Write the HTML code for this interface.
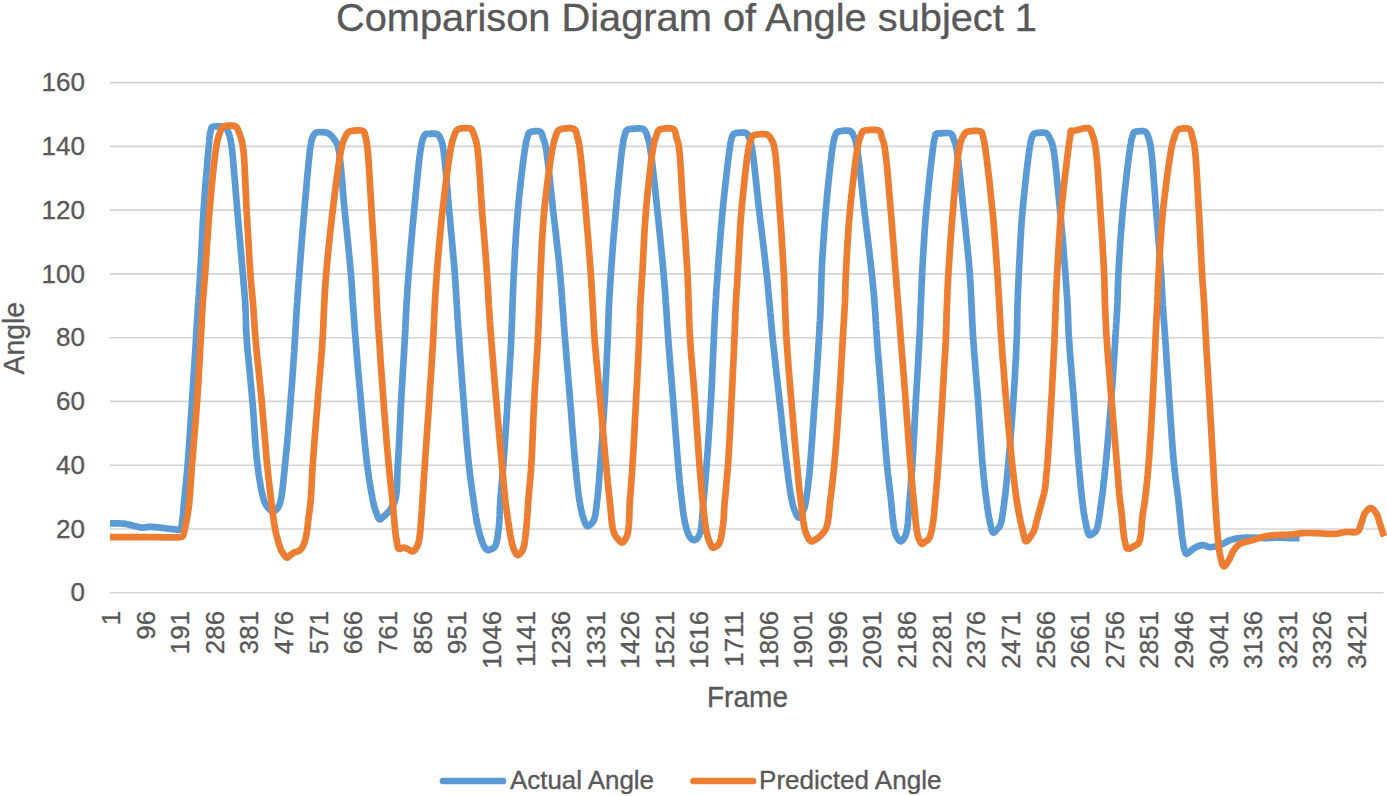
<!DOCTYPE html>
<html><head><meta charset="utf-8"><style>
html,body{margin:0;padding:0;background:#fff;}
body{width:1387px;height:796px;overflow:hidden;font-family:"Liberation Sans",sans-serif;}
svg{display:block;}
</style></head><body>
<svg width="1387" height="796" viewBox="0 0 1387 796" font-family="Liberation Sans, sans-serif">
<style>text{stroke:#595959;stroke-width:0.35px;}</style>
<rect width="1387" height="796" fill="#fff"/>
<g stroke="#d4d4d4" stroke-width="1.6"><line x1="110" x2="1383.5" y1="592.8" y2="592.8"/><line x1="110" x2="1383.5" y1="529.0" y2="529.0"/><line x1="110" x2="1383.5" y1="465.2" y2="465.2"/><line x1="110" x2="1383.5" y1="401.4" y2="401.4"/><line x1="110" x2="1383.5" y1="337.7" y2="337.7"/><line x1="110" x2="1383.5" y1="273.9" y2="273.9"/><line x1="110" x2="1383.5" y1="210.1" y2="210.1"/><line x1="110" x2="1383.5" y1="146.4" y2="146.4"/><line x1="110" x2="1383.5" y1="82.6" y2="82.6"/></g>
<g fill="#595959" font-size="26"><text x="85" y="601.4" text-anchor="end">0</text><text x="85" y="537.6" text-anchor="end">20</text><text x="85" y="473.8" text-anchor="end">40</text><text x="85" y="410.0" text-anchor="end">60</text><text x="85" y="346.3" text-anchor="end">80</text><text x="85" y="282.5" text-anchor="end">100</text><text x="85" y="218.7" text-anchor="end">120</text><text x="85" y="155.0" text-anchor="end">140</text><text x="85" y="91.2" text-anchor="end">160</text></g>
<g fill="#595959" font-size="26"><text transform="translate(120.0,610.8) rotate(-90)" text-anchor="end">1</text><text transform="translate(154.6,610.8) rotate(-90)" text-anchor="end">96</text><text transform="translate(189.2,610.8) rotate(-90)" text-anchor="end">191</text><text transform="translate(223.8,610.8) rotate(-90)" text-anchor="end">286</text><text transform="translate(258.4,610.8) rotate(-90)" text-anchor="end">381</text><text transform="translate(293.1,610.8) rotate(-90)" text-anchor="end">476</text><text transform="translate(327.7,610.8) rotate(-90)" text-anchor="end">571</text><text transform="translate(362.3,610.8) rotate(-90)" text-anchor="end">666</text><text transform="translate(396.9,610.8) rotate(-90)" text-anchor="end">761</text><text transform="translate(431.5,610.8) rotate(-90)" text-anchor="end">856</text><text transform="translate(466.1,610.8) rotate(-90)" text-anchor="end">951</text><text transform="translate(500.7,610.8) rotate(-90)" text-anchor="end">1046</text><text transform="translate(535.3,610.8) rotate(-90)" text-anchor="end">1141</text><text transform="translate(569.9,610.8) rotate(-90)" text-anchor="end">1236</text><text transform="translate(604.6,610.8) rotate(-90)" text-anchor="end">1331</text><text transform="translate(639.2,610.8) rotate(-90)" text-anchor="end">1426</text><text transform="translate(673.8,610.8) rotate(-90)" text-anchor="end">1521</text><text transform="translate(708.4,610.8) rotate(-90)" text-anchor="end">1616</text><text transform="translate(743.0,610.8) rotate(-90)" text-anchor="end">1711</text><text transform="translate(777.6,610.8) rotate(-90)" text-anchor="end">1806</text><text transform="translate(812.2,610.8) rotate(-90)" text-anchor="end">1901</text><text transform="translate(846.8,610.8) rotate(-90)" text-anchor="end">1996</text><text transform="translate(881.4,610.8) rotate(-90)" text-anchor="end">2091</text><text transform="translate(916.1,610.8) rotate(-90)" text-anchor="end">2186</text><text transform="translate(950.7,610.8) rotate(-90)" text-anchor="end">2281</text><text transform="translate(985.3,610.8) rotate(-90)" text-anchor="end">2376</text><text transform="translate(1019.9,610.8) rotate(-90)" text-anchor="end">2471</text><text transform="translate(1054.5,610.8) rotate(-90)" text-anchor="end">2566</text><text transform="translate(1089.1,610.8) rotate(-90)" text-anchor="end">2661</text><text transform="translate(1123.7,610.8) rotate(-90)" text-anchor="end">2756</text><text transform="translate(1158.3,610.8) rotate(-90)" text-anchor="end">2851</text><text transform="translate(1192.9,610.8) rotate(-90)" text-anchor="end">2946</text><text transform="translate(1227.6,610.8) rotate(-90)" text-anchor="end">3041</text><text transform="translate(1262.2,610.8) rotate(-90)" text-anchor="end">3136</text><text transform="translate(1296.8,610.8) rotate(-90)" text-anchor="end">3231</text><text transform="translate(1331.4,610.8) rotate(-90)" text-anchor="end">3326</text><text transform="translate(1366.0,610.8) rotate(-90)" text-anchor="end">3421</text></g>
<text x="336" y="31.4" font-size="39.5" fill="#595959" textLength="701" lengthAdjust="spacingAndGlyphs">Comparison Diagram of Angle subject 1</text>
<text transform="translate(23.7,374.5) rotate(-90)" font-size="29" fill="#595959" textLength="72.5" lengthAdjust="spacingAndGlyphs">Angle</text>
<text x="707" y="706.8" font-size="29" fill="#595959" textLength="81" lengthAdjust="spacingAndGlyphs">Frame</text>
<g fill="none" stroke-linejoin="round" stroke-width="6.7">
<path d="M110.0,523.3 111.9,523.3 113.7,523.4 115.6,523.4 117.4,523.4 119.3,523.4 121.2,523.5 123.1,523.6 125.0,523.8 127.2,524.2 129.5,524.7 131.8,525.2 134.1,525.9 136.4,526.5 138.6,527.0 140.6,527.4 142.5,527.6 143.6,527.6 144.5,527.5 145.5,527.4 146.3,527.3 147.2,527.1 148.1,527.0 149.0,526.8 150.0,526.8 151.4,526.8 152.9,526.9 154.4,527.1 156.0,527.2 157.6,527.4 159.2,527.6 160.9,527.8 162.5,528.0 164.4,528.2 166.5,528.5 168.6,528.7 170.7,529.0 172.7,529.2 174.6,529.4 176.3,529.6 177.6,529.6 178.1,529.6 178.5,529.6 178.9,529.7 179.3,529.7 179.6,529.7 179.9,529.6 180.2,529.5 180.5,529.3 180.9,528.7 181.3,527.9 181.5,526.8 181.7,525.6 181.8,524.2 182.0,522.8 182.1,521.4 182.3,520.0 182.6,517.9 182.8,515.7 183.1,513.3 183.3,510.8 183.6,508.2 183.8,505.6 184.0,502.8 184.3,500.0 184.7,496.2 185.1,492.2 185.5,488.0 185.9,483.8 186.3,479.3 186.8,474.7 187.2,469.9 187.6,465.0 188.2,457.9 188.7,450.4 189.3,442.5 189.8,434.3 190.4,426.0 190.9,417.7 191.5,409.4 192.0,401.3 192.5,393.1 193.1,384.8 193.6,376.3 194.2,367.9 194.7,359.6 195.2,351.7 195.7,344.2 196.1,337.2 196.4,332.6 196.6,328.4 196.9,324.3 197.1,320.4 197.4,316.6 197.6,312.8 197.8,308.9 198.1,305.0 198.4,301.2 198.6,297.4 198.9,293.7 199.1,290.1 199.4,286.3 199.7,282.4 199.9,278.2 200.2,273.8 200.6,266.9 201.0,259.4 201.4,251.5 201.8,243.3 202.2,234.9 202.6,226.5 203.1,218.1 203.6,210.0 204.2,201.7 204.8,192.8 205.5,183.8 206.3,174.9 207.0,166.4 207.6,158.5 208.3,151.6 208.8,145.9 209.0,143.7 209.2,141.8 209.3,140.0 209.5,138.4 209.7,136.9 209.8,135.4 210.1,134.1 210.3,132.8 210.5,132.0 210.6,131.1 210.8,130.3 210.9,129.6 211.1,128.9 211.3,128.3 211.6,127.7 212.0,127.3 212.4,127.0 212.8,126.8 213.3,126.7 213.8,126.6 214.3,126.5 214.9,126.5 215.4,126.4 216.0,126.4 216.7,126.3 217.4,126.3 218.2,126.3 219.0,126.3 219.8,126.3 220.5,126.4 221.3,126.5 222.0,126.6 222.6,126.8 223.2,126.9 223.8,127.1 224.4,127.4 225.0,127.7 225.5,128.0 226.0,128.4 226.5,128.8 227.0,129.4 227.5,130.2 227.9,131.0 228.2,131.9 228.6,132.9 228.9,133.8 229.2,134.8 229.5,135.8 229.8,136.9 230.1,138.0 230.4,139.0 230.6,140.2 230.8,141.4 231.0,142.7 231.3,144.2 231.5,145.9 232.2,151.3 232.9,158.0 233.6,165.9 234.3,174.5 235.1,183.5 235.8,192.7 236.6,201.6 237.3,210.0 238.0,218.1 238.7,226.5 239.5,234.9 240.2,243.3 240.9,251.5 241.6,259.4 242.2,266.9 242.8,273.8 243.2,278.2 243.5,282.4 243.9,286.3 244.2,290.1 244.5,293.7 244.8,297.4 245.1,301.2 245.3,305.0 245.5,308.9 245.7,312.8 245.8,316.6 245.9,320.4 246.0,324.3 246.1,328.4 246.3,332.6 246.6,337.2 247.1,344.2 247.7,351.7 248.5,359.6 249.3,367.9 250.1,376.3 250.9,384.8 251.7,393.1 252.4,401.3 253.1,409.4 253.7,417.8 254.3,426.3 254.8,434.7 255.4,442.9 256.1,450.8 256.7,458.2 257.5,465.0 258.1,469.4 258.6,473.7 259.2,477.8 259.9,481.7 260.5,485.5 261.1,488.9 261.8,492.1 262.5,495.0 262.9,496.5 263.3,498.0 263.6,499.3 264.0,500.6 264.4,501.7 264.9,502.9 265.4,503.9 266.0,505.0 266.7,506.0 267.4,507.0 268.3,508.0 269.1,509.0 270.0,509.9 270.9,510.6 271.8,511.1 272.6,511.3 273.2,511.3 273.8,511.2 274.3,511.0 274.9,510.7 275.5,510.3 276.0,509.9 276.5,509.5 277.0,509.0 277.5,508.4 278.0,507.7 278.4,507.0 278.8,506.2 279.2,505.3 279.6,504.3 279.9,503.2 280.3,502.0 281.1,498.9 281.7,495.1 282.3,490.7 282.9,486.0 283.4,480.9 283.9,475.7 284.5,470.3 285.0,465.0 285.7,457.9 286.5,450.3 287.2,442.4 287.9,434.2 288.6,426.0 289.3,417.6 290.0,409.4 290.6,401.3 291.2,393.1 291.9,384.8 292.5,376.3 293.1,367.9 293.6,359.6 294.2,351.7 294.6,344.2 295.1,337.2 295.4,332.6 295.6,328.4 295.9,324.3 296.1,320.4 296.3,316.6 296.5,312.8 296.7,308.9 297.0,305.0 297.3,301.2 297.5,297.4 297.8,293.7 298.1,290.1 298.3,286.3 298.6,282.4 299.0,278.2 299.3,273.8 299.8,266.9 300.4,259.4 301.0,251.5 301.6,243.3 302.3,234.9 303.0,226.5 303.7,218.1 304.4,210.0 305.1,201.6 305.9,192.6 306.7,183.4 307.5,174.3 308.3,165.7 309.1,157.8 309.8,151.1 310.6,145.9 310.9,144.3 311.1,142.9 311.3,141.7 311.6,140.6 311.8,139.5 312.1,138.6 312.4,137.7 312.8,136.8 313.1,136.2 313.4,135.6 313.7,135.0 314.1,134.5 314.4,134.0 314.8,133.6 315.2,133.2 315.7,132.9 316.2,132.7 316.6,132.5 317.1,132.4 317.7,132.3 318.2,132.2 318.8,132.2 319.4,132.2 320.0,132.2 320.9,132.2 321.9,132.2 323.0,132.2 324.1,132.3 325.2,132.4 326.2,132.6 327.3,132.9 328.2,133.3 329.1,133.8 330.0,134.5 330.8,135.3 331.7,136.1 332.4,137.0 333.2,137.9 333.9,138.8 334.5,139.7 335.0,140.4 335.5,141.0 335.9,141.7 336.3,142.3 336.7,143.0 337.1,143.8 337.4,144.8 337.8,145.9 338.9,150.7 339.8,157.1 340.7,165.0 341.5,173.7 342.3,183.0 343.0,192.4 343.8,201.5 344.6,210.0 345.4,218.1 346.3,226.5 347.2,234.9 348.0,243.3 348.8,251.5 349.6,259.4 350.3,266.9 350.9,273.8 351.3,278.2 351.6,282.4 351.8,286.3 352.1,290.1 352.3,293.7 352.5,297.4 352.7,301.2 353.0,305.0 353.3,308.9 353.6,312.8 353.8,316.6 354.1,320.4 354.4,324.3 354.7,328.4 355.0,332.6 355.4,337.2 356.0,344.2 356.6,351.7 357.2,359.6 357.9,367.9 358.7,376.3 359.4,384.8 360.2,393.1 360.9,401.3 361.6,409.4 362.4,417.7 363.1,426.0 363.9,434.3 364.7,442.5 365.5,450.4 366.3,457.9 367.2,465.0 367.9,470.1 368.6,475.2 369.3,480.2 370.1,485.0 370.8,489.5 371.6,493.7 372.3,497.6 373.0,501.0 373.4,502.7 373.7,504.3 374.1,505.7 374.4,507.1 374.8,508.3 375.2,509.6 375.6,510.8 376.0,512.0 376.4,513.1 376.8,514.3 377.3,515.5 377.7,516.7 378.2,517.7 378.7,518.6 379.2,519.2 379.7,519.5 380.1,519.5 380.5,519.3 380.9,519.1 381.3,518.7 381.7,518.3 382.1,517.8 382.6,517.4 383.0,517.0 383.6,516.5 384.1,516.1 384.7,515.6 385.3,515.1 385.9,514.5 386.5,513.9 387.1,513.3 387.7,512.6 388.6,511.5 389.6,510.3 390.6,509.1 391.5,507.7 392.5,506.2 393.4,504.6 394.2,502.9 394.9,501.0 395.8,497.6 396.4,493.7 396.8,489.5 397.1,485.0 397.2,480.2 397.4,475.2 397.5,470.1 397.8,465.0 398.2,457.9 398.7,450.4 399.1,442.4 399.5,434.3 399.9,426.0 400.3,417.7 400.7,409.4 401.1,401.3 401.6,393.1 402.1,384.8 402.6,376.3 403.1,367.9 403.6,359.6 404.1,351.7 404.5,344.2 404.9,337.2 405.1,332.6 405.4,328.4 405.5,324.3 405.7,320.4 405.9,316.6 406.1,312.8 406.3,308.9 406.5,305.0 406.7,301.2 407.0,297.4 407.2,293.7 407.4,290.1 407.7,286.3 408.0,282.4 408.3,278.2 408.6,273.8 409.1,266.9 409.8,259.4 410.4,251.5 411.1,243.3 411.9,234.9 412.6,226.5 413.4,218.1 414.2,210.0 415.0,201.6 415.9,192.5 416.8,183.3 417.7,174.1 418.6,165.5 419.5,157.6 420.4,151.0 421.2,145.9 421.5,144.5 421.7,143.2 422.0,142.1 422.2,141.1 422.4,140.2 422.7,139.4 423.0,138.6 423.3,137.8 423.5,137.3 423.8,136.7 424.0,136.2 424.2,135.8 424.5,135.3 424.8,134.9 425.1,134.6 425.5,134.3 425.9,134.1 426.4,133.9 427.0,133.8 427.5,133.8 428.1,133.8 428.7,133.8 429.4,133.8 430.0,133.8 430.9,133.8 431.8,133.7 432.9,133.7 433.9,133.6 434.9,133.7 435.9,133.8 436.8,134.0 437.5,134.3 438.0,134.7 438.5,135.1 438.9,135.7 439.3,136.2 439.6,136.8 439.9,137.5 440.2,138.1 440.5,138.8 440.9,139.5 441.2,140.3 441.5,141.0 441.7,141.8 442.0,142.6 442.3,143.6 442.5,144.6 442.8,145.9 443.6,150.8 444.4,157.4 445.2,165.2 446.0,173.9 446.8,183.1 447.6,192.5 448.3,201.6 449.1,210.0 449.9,218.1 450.6,226.5 451.4,234.9 452.2,243.3 452.9,251.5 453.6,259.4 454.3,266.9 454.8,273.8 455.1,278.2 455.4,282.4 455.7,286.3 455.9,290.1 456.1,293.7 456.3,297.4 456.6,301.2 456.8,305.0 457.1,308.9 457.3,312.8 457.5,316.6 457.8,320.4 458.0,324.3 458.3,328.4 458.6,332.6 458.9,337.2 459.4,344.2 459.9,351.7 460.5,359.6 461.1,367.9 461.7,376.3 462.3,384.8 463.0,393.1 463.6,401.3 464.2,409.4 464.9,417.7 465.5,426.0 466.1,434.4 466.8,442.5 467.5,450.4 468.2,458.0 468.9,465.0 469.5,469.9 470.0,474.7 470.6,479.3 471.2,483.8 471.8,488.1 472.4,492.2 473.0,496.2 473.5,500.0 473.9,502.8 474.3,505.5 474.6,508.0 475.0,510.5 475.3,513.0 475.7,515.3 476.1,517.7 476.5,520.0 476.9,522.0 477.3,524.0 477.7,525.9 478.1,527.9 478.6,529.7 479.0,531.6 479.5,533.4 480.0,535.1 480.4,536.6 480.9,538.1 481.4,539.6 481.9,541.0 482.4,542.4 482.9,543.7 483.4,544.9 484.0,546.0 484.4,546.7 484.8,547.4 485.3,548.0 485.7,548.6 486.1,549.1 486.6,549.5 487.1,549.9 487.6,550.1 488.1,550.2 488.5,550.2 489.0,550.1 489.5,549.9 490.0,549.7 490.5,549.5 491.0,549.2 491.5,549.0 492.0,548.8 492.5,548.5 492.9,548.3 493.4,548.0 493.9,547.7 494.3,547.3 494.7,546.8 495.1,546.3 495.8,544.8 496.4,543.0 497.0,540.7 497.4,538.3 497.8,535.6 498.1,532.9 498.5,530.2 498.8,527.6 499.1,524.5 499.4,521.4 499.5,518.2 499.7,514.9 499.8,511.5 499.9,508.0 500.1,504.5 500.3,501.0 500.6,496.8 501.0,492.6 501.3,488.3 501.7,484.0 502.1,479.5 502.5,474.8 502.9,470.0 503.3,465.0 503.8,457.9 504.4,450.4 504.9,442.4 505.5,434.3 506.0,426.0 506.6,417.7 507.1,409.4 507.6,401.3 508.1,393.1 508.6,384.8 509.1,376.3 509.6,367.9 510.1,359.6 510.6,351.7 511.0,344.2 511.3,337.2 511.5,332.6 511.7,328.4 511.8,324.3 512.0,320.4 512.1,316.6 512.2,312.8 512.4,308.9 512.5,305.0 512.6,301.2 512.8,297.4 512.9,293.7 513.1,290.1 513.2,286.3 513.4,282.4 513.6,278.2 513.8,273.8 514.2,266.9 514.6,259.4 515.0,251.5 515.5,243.3 516.0,234.9 516.6,226.5 517.2,218.1 517.9,210.0 518.7,201.6 519.6,192.5 520.6,183.3 521.6,174.1 522.7,165.5 523.7,157.6 524.6,151.0 525.4,145.9 525.7,144.5 525.9,143.3 526.1,142.2 526.3,141.2 526.6,140.3 526.8,139.5 527.0,138.7 527.3,137.8 527.5,137.1 527.7,136.4 527.9,135.7 528.1,135.0 528.3,134.4 528.5,133.8 528.8,133.2 529.2,132.8 529.6,132.5 530.0,132.2 530.4,132.0 530.9,131.8 531.4,131.7 531.9,131.6 532.4,131.5 533.0,131.4 533.8,131.3 534.8,131.2 535.8,131.1 536.9,131.0 537.9,131.1 538.9,131.2 539.8,131.4 540.5,131.8 541.0,132.3 541.4,132.9 541.8,133.6 542.0,134.4 542.3,135.2 542.5,136.1 542.7,137.0 543.0,137.8 543.3,138.7 543.6,139.5 544.0,140.4 544.3,141.3 544.6,142.2 544.9,143.3 545.2,144.5 545.5,145.9 546.4,151.0 547.3,157.6 548.3,165.5 549.3,174.1 550.2,183.3 551.2,192.5 552.2,201.6 553.1,210.0 554.0,218.1 555.0,226.5 556.0,234.9 556.9,243.3 557.8,251.5 558.7,259.4 559.4,266.9 560.1,273.8 560.5,278.2 560.8,282.4 561.2,286.3 561.4,290.1 561.7,293.7 562.0,297.4 562.2,301.2 562.5,305.0 562.8,308.9 563.1,312.8 563.4,316.6 563.6,320.4 563.9,324.3 564.2,328.4 564.5,332.6 564.9,337.2 565.5,344.2 566.1,351.7 566.7,359.6 567.4,367.9 568.1,376.3 568.8,384.8 569.5,393.1 570.2,401.3 570.9,409.4 571.5,417.7 572.1,426.0 572.8,434.4 573.4,442.5 574.1,450.4 574.7,457.9 575.4,465.0 575.9,470.0 576.4,474.8 576.8,479.4 577.3,483.9 577.8,488.3 578.3,492.4 578.8,496.3 579.4,500.0 579.8,502.5 580.2,504.8 580.6,507.1 581.0,509.3 581.5,511.3 581.9,513.3 582.4,515.2 583.0,517.0 583.4,518.4 583.9,519.8 584.4,521.2 584.9,522.6 585.4,523.8 585.9,524.8 586.5,525.6 587.1,526.0 587.5,526.1 587.9,526.0 588.4,525.9 588.8,525.7 589.2,525.4 589.7,525.1 590.1,524.8 590.5,524.5 591.0,524.1 591.4,523.7 591.9,523.2 592.3,522.7 592.7,522.2 593.2,521.5 593.5,520.9 593.9,520.1 594.5,518.5 595.0,516.6 595.4,514.6 595.7,512.3 596.1,509.8 596.4,507.3 596.7,504.7 597.0,502.0 597.5,498.1 597.9,493.9 598.3,489.5 598.7,485.0 599.1,480.2 599.4,475.3 599.8,470.2 600.2,465.0 600.7,457.9 601.3,450.3 601.9,442.4 602.5,434.2 603.0,426.0 603.6,417.6 604.1,409.4 604.6,401.3 605.1,393.1 605.5,384.8 606.0,376.3 606.4,367.9 606.8,359.6 607.2,351.7 607.5,344.2 607.8,337.2 608.0,332.6 608.1,328.4 608.3,324.3 608.4,320.4 608.5,316.6 608.7,312.8 608.8,308.9 609.0,305.0 609.2,301.2 609.4,297.4 609.6,293.7 609.8,290.1 610.1,286.3 610.3,282.4 610.6,278.2 610.9,273.8 611.4,266.9 611.9,259.4 612.5,251.5 613.1,243.3 613.8,234.9 614.5,226.5 615.2,218.1 615.9,210.0 616.7,201.6 617.5,192.7 618.4,183.6 619.3,174.6 620.2,166.1 621.0,158.2 621.8,151.4 622.6,145.9 622.9,144.0 623.1,142.4 623.4,140.9 623.6,139.5 623.9,138.2 624.2,137.0 624.5,135.9 624.8,134.8 625.0,134.0 625.3,133.3 625.5,132.6 625.8,131.9 626.1,131.3 626.4,130.7 626.8,130.2 627.2,129.8 627.7,129.5 628.2,129.3 628.7,129.2 629.3,129.1 629.9,129.0 630.6,129.0 631.3,128.9 632.0,128.9 633.2,128.8 634.7,128.6 636.3,128.5 637.9,128.4 639.5,128.4 641.0,128.5 642.4,128.8 643.5,129.3 644.3,129.9 644.9,130.7 645.5,131.6 646.0,132.6 646.4,133.6 646.8,134.7 647.1,135.8 647.5,136.8 647.9,137.8 648.2,138.8 648.5,139.7 648.8,140.7 649.0,141.8 649.2,143.0 649.5,144.3 649.8,145.9 650.6,151.1 651.6,157.8 652.5,165.7 653.5,174.3 654.5,183.4 655.5,192.6 656.4,201.6 657.3,210.0 658.2,218.1 659.0,226.5 659.9,234.9 660.7,243.3 661.5,251.5 662.3,259.4 663.0,266.9 663.6,273.8 664.0,278.2 664.3,282.4 664.6,286.3 664.9,290.1 665.2,293.7 665.5,297.4 665.7,301.2 666.0,305.0 666.3,308.9 666.5,312.8 666.8,316.6 667.0,320.4 667.2,324.3 667.5,328.4 667.8,332.6 668.1,337.2 668.6,344.2 669.2,351.7 669.8,359.6 670.5,367.9 671.2,376.3 671.9,384.8 672.5,393.1 673.2,401.3 673.8,409.4 674.5,417.7 675.1,426.0 675.7,434.3 676.4,442.5 677.0,450.4 677.6,457.9 678.2,465.0 678.6,469.9 679.1,474.7 679.5,479.3 679.9,483.8 680.4,488.1 680.8,492.2 681.3,496.2 681.7,500.0 682.0,502.8 682.4,505.5 682.7,508.1 683.0,510.6 683.3,513.1 683.7,515.5 684.1,517.8 684.5,520.0 684.8,521.8 685.2,523.5 685.6,525.2 685.9,526.8 686.3,528.4 686.8,529.9 687.2,531.3 687.7,532.6 688.1,533.5 688.4,534.4 688.8,535.2 689.2,536.0 689.6,536.7 690.1,537.4 690.5,538.0 691.0,538.5 691.3,538.8 691.7,539.1 692.1,539.4 692.5,539.6 692.9,539.8 693.2,540.0 693.6,540.1 694.0,540.1 694.4,540.1 694.8,540.0 695.2,539.8 695.5,539.6 695.9,539.4 696.3,539.1 696.7,538.8 697.0,538.5 697.5,538.0 697.9,537.5 698.3,536.8 698.7,536.2 699.1,535.4 699.5,534.6 699.9,533.6 700.2,532.6 700.9,529.9 701.4,526.6 701.8,522.7 702.2,518.5 702.5,514.1 702.8,509.6 703.1,505.2 703.5,501.0 703.9,496.7 704.3,492.4 704.7,488.1 705.1,483.8 705.4,479.4 705.8,474.8 706.2,470.0 706.6,465.0 707.1,457.9 707.7,450.4 708.3,442.4 708.8,434.3 709.4,426.0 709.9,417.7 710.4,409.4 710.9,401.3 711.3,393.1 711.8,384.8 712.2,376.3 712.5,367.9 712.9,359.6 713.2,351.7 713.6,344.2 713.9,337.2 714.1,332.6 714.3,328.4 714.5,324.3 714.7,320.4 714.9,316.6 715.1,312.8 715.3,308.9 715.5,305.0 715.7,301.2 716.0,297.4 716.2,293.7 716.4,290.1 716.7,286.3 717.0,282.4 717.3,278.2 717.6,273.8 718.1,266.9 718.6,259.4 719.2,251.5 719.9,243.3 720.5,234.9 721.2,226.5 721.9,218.1 722.7,210.0 723.5,201.6 724.5,192.5 725.5,183.3 726.5,174.1 727.5,165.5 728.5,157.6 729.3,151.0 730.1,145.9 730.3,144.5 730.5,143.3 730.7,142.2 730.9,141.2 731.1,140.3 731.3,139.4 731.5,138.6 731.8,137.8 732.0,137.2 732.2,136.6 732.5,136.0 732.7,135.5 733.0,135.0 733.3,134.5 733.6,134.1 734.0,133.8 734.4,133.5 734.8,133.4 735.3,133.2 735.8,133.1 736.3,133.0 736.8,133.0 737.4,132.9 738.0,132.9 738.9,132.8 740.0,132.7 741.2,132.6 742.4,132.6 743.6,132.6 744.7,132.7 745.7,132.9 746.5,133.3 747.1,133.8 747.6,134.3 748.0,135.0 748.3,135.7 748.6,136.5 748.9,137.2 749.2,138.0 749.5,138.8 749.8,139.6 750.1,140.3 750.4,141.1 750.6,141.8 750.8,142.6 751.1,143.6 751.3,144.7 751.6,145.9 752.4,150.8 753.3,157.4 754.3,165.2 755.2,173.9 756.2,183.1 757.2,192.5 758.1,201.6 759.1,210.0 760.1,218.1 761.1,226.5 762.1,234.9 763.1,243.3 764.1,251.5 765.0,259.4 765.8,266.9 766.6,273.8 767.1,278.2 767.5,282.4 767.9,286.3 768.2,290.1 768.6,293.7 768.9,297.4 769.2,301.2 769.6,305.0 770.0,308.9 770.3,312.8 770.7,316.6 771.0,320.4 771.4,324.3 771.7,328.4 772.1,332.6 772.6,337.2 773.3,344.2 774.1,351.7 775.0,359.6 775.9,367.9 776.8,376.3 777.8,384.8 778.7,393.1 779.6,401.3 780.5,409.4 781.4,417.7 782.3,426.1 783.2,434.5 784.1,442.7 785.0,450.6 785.8,458.1 786.7,465.0 787.3,469.7 787.9,474.3 788.4,478.7 789.0,482.9 789.5,486.9 790.1,490.7 790.7,494.3 791.3,497.5 791.7,499.4 792.0,501.1 792.4,502.8 792.7,504.4 793.1,505.8 793.5,507.3 794.0,508.7 794.5,510.0 795.0,511.2 795.5,512.4 796.0,513.7 796.6,514.9 797.1,515.9 797.7,516.8 798.3,517.4 798.8,517.6 799.2,517.5 799.6,517.1 800.1,516.6 800.5,515.9 800.9,515.2 801.3,514.4 801.6,513.7 802.0,513.0 802.4,512.4 802.7,511.8 803.0,511.1 803.3,510.5 803.6,509.8 803.9,509.1 804.2,508.4 804.5,507.5 805.0,505.8 805.4,503.9 805.8,501.8 806.1,499.6 806.5,497.2 806.8,494.8 807.2,492.4 807.5,490.0 807.9,487.2 808.2,484.3 808.5,481.5 808.8,478.5 809.2,475.4 809.5,472.2 809.8,468.7 810.1,465.0 810.7,458.4 811.2,451.1 811.8,443.3 812.4,435.0 813.0,426.5 813.6,417.9 814.2,409.5 814.8,401.3 815.4,393.1 815.9,384.8 816.5,376.3 817.1,367.9 817.6,359.6 818.1,351.7 818.6,344.2 819.0,337.2 819.3,332.6 819.5,328.4 819.7,324.3 820.0,320.4 820.2,316.6 820.4,312.8 820.5,308.9 820.7,305.0 820.8,301.2 820.9,297.4 821.0,293.7 821.1,290.1 821.2,286.3 821.3,282.4 821.4,278.2 821.6,273.8 821.9,266.9 822.3,259.4 822.8,251.5 823.3,243.3 823.9,234.9 824.5,226.5 825.1,218.1 825.8,210.0 826.6,201.6 827.4,192.6 828.3,183.4 829.3,174.3 830.2,165.7 831.2,157.8 832.0,151.1 832.8,145.9 833.1,144.3 833.3,143.0 833.5,141.7 833.8,140.6 834.0,139.6 834.2,138.6 834.5,137.7 834.8,136.8 835.0,136.1 835.2,135.5 835.5,134.8 835.7,134.2 836.0,133.7 836.2,133.2 836.6,132.7 837.0,132.3 837.5,132.0 838.0,131.7 838.6,131.5 839.2,131.3 839.9,131.2 840.6,131.1 841.3,131.0 842.0,130.9 843.0,130.8 844.1,130.7 845.2,130.6 846.4,130.5 847.5,130.6 848.6,130.7 849.6,130.9 850.5,131.3 851.2,131.8 851.8,132.5 852.4,133.2 852.9,134.1 853.3,135.0 853.7,136.0 854.1,136.9 854.5,137.8 854.9,138.7 855.2,139.5 855.5,140.4 855.7,141.3 855.9,142.2 856.2,143.3 856.4,144.5 856.7,145.9 857.5,151.0 858.4,157.6 859.4,165.5 860.4,174.1 861.4,183.3 862.4,192.6 863.3,201.6 864.3,210.0 865.3,218.1 866.3,226.5 867.3,234.9 868.3,243.3 869.3,251.5 870.2,259.4 871.1,266.9 871.8,273.8 872.3,278.2 872.7,282.4 873.1,286.3 873.4,290.1 873.8,293.7 874.1,297.4 874.4,301.1 874.7,305.0 875.0,308.9 875.3,312.8 875.5,316.6 875.7,320.4 876.0,324.3 876.2,328.4 876.5,332.6 876.8,337.2 877.3,344.2 877.9,351.7 878.5,359.6 879.2,367.9 879.9,376.3 880.6,384.8 881.2,393.1 881.9,401.3 882.5,409.4 883.2,417.7 883.8,426.0 884.4,434.4 885.1,442.5 885.7,450.4 886.3,457.9 887.0,465.0 887.5,469.9 888.0,474.7 888.6,479.3 889.1,483.8 889.6,488.0 890.1,492.2 890.6,496.2 891.0,500.0 891.3,502.8 891.5,505.5 891.8,508.1 892.0,510.6 892.2,513.1 892.5,515.5 892.7,517.8 893.0,520.0 893.2,521.7 893.4,523.5 893.7,525.1 893.9,526.8 894.1,528.3 894.4,529.8 894.7,531.3 895.1,532.6 895.4,533.5 895.7,534.5 896.1,535.3 896.4,536.2 896.8,537.0 897.2,537.7 897.6,538.4 898.0,539.0 898.3,539.4 898.6,539.8 898.9,540.2 899.3,540.5 899.6,540.8 899.9,541.1 900.3,541.2 900.6,541.3 901.0,541.3 901.3,541.1 901.7,540.9 902.1,540.6 902.5,540.2 902.8,539.8 903.2,539.4 903.5,539.0 903.9,538.4 904.3,537.8 904.7,537.1 905.1,536.4 905.4,535.6 905.8,534.7 906.1,533.7 906.4,532.6 907.0,529.8 907.5,526.5 907.9,522.6 908.2,518.5 908.6,514.1 908.9,509.6 909.2,505.2 909.5,501.0 909.9,496.7 910.2,492.4 910.6,488.1 910.9,483.8 911.3,479.4 911.6,474.8 912.0,470.0 912.3,465.0 912.7,457.9 913.2,450.4 913.6,442.4 914.1,434.3 914.5,426.0 914.9,417.7 915.4,409.4 915.8,401.3 916.3,393.1 916.8,384.8 917.3,376.3 917.8,367.9 918.3,359.6 918.7,351.7 919.1,344.2 919.5,337.2 919.7,332.6 919.9,328.4 920.1,324.3 920.2,320.4 920.4,316.6 920.5,312.8 920.6,308.9 920.8,305.0 921.0,301.2 921.1,297.4 921.2,293.7 921.4,290.1 921.5,286.3 921.7,282.4 921.9,278.2 922.1,273.8 922.5,266.9 922.9,259.4 923.4,251.5 923.9,243.3 924.4,234.9 925.0,226.5 925.6,218.1 926.3,210.0 927.1,201.6 928.0,192.5 928.9,183.3 929.9,174.1 930.9,165.5 931.8,157.6 932.6,151.0 933.3,145.9 933.5,144.5 933.7,143.3 933.9,142.2 934.1,141.2 934.2,140.3 934.4,139.4 934.6,138.6 934.8,137.8 934.9,137.2 935.0,136.6 935.1,136.1 935.2,135.5 935.3,135.0 935.5,134.6 935.7,134.2 936.0,133.9 936.4,133.7 936.8,133.5 937.2,133.4 937.7,133.4 938.2,133.4 938.8,133.4 939.4,133.4 940.0,133.4 941.2,133.3 942.6,133.2 944.1,133.1 945.7,133.0 947.2,133.0 948.7,133.1 950.0,133.3 951.0,133.8 951.6,134.3 952.1,134.9 952.5,135.7 952.9,136.5 953.2,137.3 953.4,138.2 953.7,139.0 954.0,139.8 954.3,140.5 954.6,141.2 954.8,141.8 955.0,142.4 955.3,143.1 955.5,143.9 955.7,144.8 956.0,145.9 956.9,150.7 957.8,157.1 958.7,165.0 959.7,173.7 960.7,183.0 961.7,192.4 962.6,201.5 963.5,210.0 964.4,218.1 965.3,226.5 966.1,234.9 967.0,243.3 967.8,251.5 968.6,259.4 969.2,266.9 969.8,273.8 970.1,278.2 970.4,282.4 970.6,286.3 970.8,290.1 971.0,293.7 971.1,297.4 971.3,301.2 971.5,305.0 971.7,308.9 971.9,312.8 972.0,316.6 972.2,320.4 972.4,324.3 972.6,328.4 972.8,332.6 973.1,337.2 973.6,344.2 974.1,351.7 974.8,359.6 975.4,367.9 976.1,376.3 976.8,384.8 977.5,393.1 978.1,401.3 978.7,409.4 979.2,417.7 979.8,426.0 980.3,434.3 980.9,442.4 981.4,450.4 982.0,457.9 982.6,465.0 983.1,470.1 983.5,475.0 984.0,479.8 984.5,484.4 985.0,488.8 985.5,493.0 986.0,497.1 986.5,501.0 986.9,503.7 987.2,506.3 987.5,508.8 987.9,511.1 988.3,513.4 988.6,515.7 989.0,517.9 989.5,520.0 989.9,521.9 990.3,523.9 990.7,525.9 991.1,527.8 991.6,529.6 992.1,531.1 992.6,532.1 993.2,532.6 993.6,532.6 994.0,532.5 994.4,532.2 994.8,531.8 995.2,531.4 995.7,530.9 996.1,530.4 996.5,530.0 997.0,529.5 997.5,529.0 998.0,528.5 998.4,528.0 998.9,527.4 999.4,526.7 999.8,526.0 1000.2,525.1 1000.9,523.0 1001.6,520.5 1002.1,517.7 1002.6,514.6 1003.1,511.2 1003.5,507.8 1004.0,504.4 1004.4,501.0 1004.9,496.9 1005.5,492.8 1005.9,488.5 1006.4,484.1 1006.8,479.6 1007.3,474.9 1007.7,470.0 1008.2,465.0 1008.8,457.9 1009.5,450.4 1010.2,442.4 1010.8,434.3 1011.5,426.0 1012.1,417.7 1012.7,409.4 1013.3,401.3 1013.8,393.2 1014.4,384.8 1014.9,376.3 1015.3,367.9 1015.8,359.7 1016.2,351.7 1016.5,344.2 1016.8,337.2 1017.0,332.6 1017.1,328.4 1017.1,324.3 1017.2,320.4 1017.3,316.6 1017.3,312.8 1017.4,308.9 1017.5,305.0 1017.6,301.2 1017.8,297.4 1017.9,293.7 1018.0,290.1 1018.2,286.3 1018.4,282.4 1018.6,278.2 1018.8,273.8 1019.1,266.9 1019.5,259.4 1019.9,251.5 1020.3,243.3 1020.8,234.9 1021.3,226.5 1021.9,218.1 1022.6,210.0 1023.4,201.6 1024.3,192.5 1025.3,183.3 1026.3,174.1 1027.3,165.5 1028.3,157.6 1029.2,151.0 1030.0,145.9 1030.2,144.5 1030.5,143.2 1030.6,142.2 1030.8,141.2 1031.0,140.3 1031.3,139.4 1031.5,138.6 1031.8,137.8 1032.0,137.2 1032.2,136.6 1032.5,136.0 1032.7,135.5 1033.0,135.0 1033.3,134.5 1033.6,134.1 1034.0,133.8 1034.4,133.5 1034.8,133.4 1035.3,133.2 1035.8,133.1 1036.3,133.0 1036.8,133.0 1037.4,132.9 1038.0,132.9 1038.9,132.8 1040.0,132.7 1041.2,132.6 1042.3,132.6 1043.5,132.6 1044.6,132.7 1045.6,132.9 1046.5,133.3 1047.1,133.8 1047.7,134.3 1048.1,135.0 1048.5,135.7 1048.9,136.5 1049.3,137.2 1049.6,138.0 1050.0,138.8 1050.4,139.6 1050.8,140.3 1051.1,141.0 1051.4,141.8 1051.7,142.6 1052.1,143.6 1052.4,144.6 1052.7,145.9 1053.7,150.8 1054.6,157.4 1055.6,165.2 1056.5,173.9 1057.4,183.1 1058.3,192.5 1059.2,201.5 1060.0,210.0 1060.8,218.1 1061.5,226.5 1062.3,234.9 1063.0,243.3 1063.7,251.5 1064.3,259.4 1064.9,266.9 1065.4,273.8 1065.7,278.2 1066.0,282.4 1066.3,286.3 1066.6,290.1 1066.8,293.7 1067.1,297.4 1067.3,301.2 1067.5,305.0 1067.7,308.9 1067.9,312.8 1068.0,316.6 1068.1,320.4 1068.3,324.3 1068.4,328.4 1068.6,332.6 1068.9,337.2 1069.4,344.2 1069.9,351.7 1070.5,359.6 1071.2,367.9 1071.9,376.3 1072.6,384.8 1073.3,393.1 1073.9,401.3 1074.5,409.4 1075.1,417.7 1075.8,426.0 1076.4,434.3 1077.0,442.4 1077.6,450.4 1078.2,457.9 1078.8,465.0 1079.2,470.1 1079.7,474.9 1080.1,479.7 1080.5,484.2 1080.9,488.7 1081.4,492.9 1081.8,497.0 1082.3,501.0 1082.7,503.9 1083.0,506.8 1083.4,509.5 1083.7,512.2 1084.1,514.8 1084.6,517.2 1085.0,519.7 1085.5,522.0 1085.9,523.9 1086.3,526.0 1086.8,528.1 1087.2,530.1 1087.7,531.9 1088.2,533.4 1088.8,534.5 1089.5,535.1 1089.9,535.2 1090.3,535.1 1090.8,535.0 1091.2,534.8 1091.7,534.5 1092.1,534.1 1092.6,533.8 1093.0,533.5 1093.4,533.2 1093.9,532.9 1094.3,532.6 1094.7,532.2 1095.1,531.8 1095.5,531.3 1095.9,530.8 1096.3,530.1 1097.2,527.9 1097.9,525.0 1098.6,521.5 1099.2,517.6 1099.8,513.4 1100.3,509.2 1100.9,505.0 1101.4,501.0 1102.0,496.8 1102.6,492.5 1103.1,488.2 1103.6,483.9 1104.1,479.4 1104.6,474.8 1105.1,470.0 1105.6,465.0 1106.3,457.9 1107.0,450.4 1107.7,442.5 1108.4,434.3 1109.1,426.0 1109.8,417.7 1110.5,409.4 1111.1,401.3 1111.7,393.2 1112.3,384.8 1112.9,376.3 1113.4,367.9 1114.0,359.6 1114.5,351.7 1115.0,344.2 1115.4,337.2 1115.7,332.6 1116.0,328.4 1116.2,324.3 1116.5,320.4 1116.7,316.6 1116.9,312.8 1117.1,308.9 1117.3,305.0 1117.5,301.2 1117.6,297.4 1117.7,293.7 1117.8,290.1 1117.9,286.3 1118.0,282.4 1118.2,278.2 1118.4,273.8 1118.8,266.9 1119.2,259.4 1119.7,251.5 1120.2,243.3 1120.8,234.9 1121.5,226.5 1122.2,218.1 1122.9,210.0 1123.7,201.6 1124.6,192.6 1125.7,183.4 1126.7,174.3 1127.7,165.7 1128.7,157.8 1129.6,151.1 1130.4,145.9 1130.7,144.3 1130.9,143.0 1131.1,141.7 1131.3,140.6 1131.5,139.6 1131.8,138.6 1132.0,137.7 1132.3,136.8 1132.5,136.1 1132.7,135.5 1132.9,134.8 1133.1,134.2 1133.3,133.6 1133.5,133.1 1133.8,132.7 1134.2,132.3 1134.6,132.0 1135.0,131.8 1135.4,131.7 1135.9,131.6 1136.4,131.5 1136.9,131.5 1137.4,131.4 1138.0,131.4 1138.8,131.3 1139.8,131.2 1140.8,131.1 1141.9,131.1 1142.9,131.1 1143.9,131.2 1144.8,131.4 1145.5,131.8 1146.1,132.3 1146.6,132.9 1147.0,133.6 1147.3,134.4 1147.6,135.2 1147.9,136.1 1148.2,137.0 1148.5,137.8 1148.8,138.7 1149.1,139.5 1149.4,140.4 1149.6,141.3 1149.9,142.2 1150.1,143.3 1150.3,144.5 1150.6,145.9 1151.3,151.0 1152.0,157.6 1152.7,165.5 1153.4,174.1 1154.1,183.3 1154.8,192.5 1155.4,201.6 1156.1,210.0 1156.8,218.1 1157.5,226.5 1158.1,234.9 1158.8,243.3 1159.5,251.5 1160.1,259.4 1160.6,266.9 1161.1,273.8 1161.4,278.2 1161.6,282.4 1161.8,286.3 1162.0,290.1 1162.2,293.7 1162.4,297.4 1162.6,301.2 1162.8,305.0 1163.1,308.9 1163.3,312.8 1163.6,316.6 1163.9,320.4 1164.2,324.3 1164.5,328.4 1164.8,332.6 1165.1,337.2 1165.6,344.2 1166.1,351.7 1166.6,359.6 1167.1,367.9 1167.7,376.3 1168.3,384.8 1168.8,393.1 1169.4,401.3 1170.0,409.4 1170.5,417.7 1171.1,426.0 1171.6,434.3 1172.2,442.5 1172.8,450.4 1173.4,457.9 1174.1,465.0 1174.6,470.0 1175.2,474.7 1175.7,479.2 1176.3,483.5 1176.9,487.8 1177.4,492.1 1178.0,496.5 1178.5,501.0 1179.0,506.0 1179.6,511.3 1180.1,516.7 1180.6,522.1 1181.1,527.3 1181.6,532.1 1182.1,536.4 1182.6,540.1 1182.8,541.7 1183.1,543.2 1183.3,544.5 1183.5,545.8 1183.7,546.9 1183.9,548.0 1184.2,549.0 1184.5,550.0 1184.7,550.6 1184.9,551.2 1185.1,551.8 1185.3,552.4 1185.5,552.9 1185.8,553.3 1186.1,553.6 1186.4,553.8 1186.8,553.8 1187.2,553.6 1187.6,553.4 1188.1,553.0 1188.6,552.6 1189.1,552.1 1189.6,551.7 1190.1,551.3 1190.7,550.9 1191.3,550.4 1191.9,549.9 1192.5,549.4 1193.1,548.9 1193.7,548.4 1194.4,548.0 1195.1,547.6 1195.9,547.2 1196.8,546.7 1197.8,546.3 1198.7,546.0 1199.7,545.6 1200.7,545.4 1201.6,545.2 1202.6,545.1 1203.5,545.2 1204.4,545.4 1205.4,545.7 1206.3,546.0 1207.2,546.4 1208.1,546.7 1209.1,547.0 1210.1,547.1 1211.3,547.1 1212.5,547.0 1213.8,546.8 1215.0,546.6 1216.3,546.3 1217.6,545.9 1218.9,545.5 1220.1,545.1 1221.4,544.6 1222.6,544.0 1223.9,543.3 1225.1,542.6 1226.3,541.9 1227.6,541.2 1228.8,540.6 1230.1,540.1 1231.3,539.7 1232.6,539.4 1233.8,539.1 1235.0,538.8 1236.3,538.6 1237.6,538.4 1238.9,538.3 1240.2,538.1 1241.7,537.9 1243.2,537.8 1244.8,537.7 1246.4,537.7 1247.9,537.6 1249.5,537.6 1251.1,537.6 1252.7,537.6 1254.3,537.6 1255.8,537.7 1257.4,537.8 1259.0,537.9 1260.5,537.9 1262.1,538.0 1263.6,538.1 1265.2,538.1 1266.8,538.1 1268.3,538.0 1269.9,537.9 1271.5,537.9 1273.0,537.8 1274.6,537.7 1276.1,537.6 1277.7,537.6 1279.3,537.6 1280.9,537.7 1282.5,537.7 1284.1,537.8 1285.6,537.9 1287.2,538.0 1288.7,538.1 1290.2,538.1 1291.4,538.1 1292.6,538.1 1293.8,538.1 1294.9,538.1 1296.1,538.1 1297.2,538.1 1298.3,538.1 1299.5,538.1" stroke="#5b9bd5"/>
<path d="M110.0,537.1 115.0,537.1 120.1,537.1 125.3,537.1 130.4,537.1 135.4,537.1 140.4,537.1 145.3,537.1 150.0,537.1 154.2,537.1 158.6,537.2 163.0,537.3 167.3,537.4 171.3,537.4 174.9,537.4 177.9,537.3 180.0,537.1 180.5,537.0 180.9,537.0 181.2,536.9 181.5,536.9 181.8,536.8 182.1,536.7 182.3,536.5 182.6,536.3 183.0,535.7 183.4,534.9 183.7,533.9 184.0,532.8 184.2,531.6 184.5,530.4 184.7,529.2 185.0,528.0 185.4,526.5 185.7,525.0 186.0,523.4 186.4,521.8 186.7,520.1 187.0,518.4 187.3,516.7 187.6,515.0 187.9,513.2 188.1,511.5 188.4,509.7 188.6,508.0 188.8,506.1 189.1,504.2 189.3,502.2 189.5,500.0 189.8,496.4 190.1,492.5 190.4,488.4 190.7,484.1 191.0,479.5 191.3,474.8 191.6,470.0 192.0,465.0 192.6,457.9 193.2,450.4 193.8,442.5 194.5,434.3 195.2,426.0 195.9,417.7 196.5,409.4 197.1,401.3 197.6,393.1 198.2,384.8 198.7,376.3 199.2,367.9 199.7,359.6 200.1,351.7 200.5,344.2 200.9,337.2 201.1,332.6 201.4,328.4 201.6,324.3 201.7,320.4 201.9,316.6 202.1,312.8 202.4,308.9 202.6,305.0 202.9,301.2 203.2,297.4 203.5,293.7 203.8,290.1 204.1,286.3 204.4,282.4 204.8,278.2 205.1,273.8 205.6,266.9 206.1,259.4 206.6,251.5 207.1,243.3 207.7,234.9 208.3,226.5 208.9,218.1 209.6,210.0 210.3,201.6 211.2,192.7 212.0,183.5 212.9,174.5 213.8,165.9 214.7,158.0 215.6,151.3 216.4,145.9 216.7,144.2 217.0,142.7 217.2,141.4 217.5,140.2 217.8,139.1 218.1,138.0 218.4,136.9 218.8,135.8 219.2,134.6 219.6,133.4 220.1,132.2 220.5,131.0 221.0,129.9 221.6,128.9 222.1,128.0 222.7,127.3 223.1,127.0 223.4,126.7 223.8,126.5 224.2,126.3 224.6,126.2 225.0,126.1 225.5,126.0 226.0,125.9 226.9,125.8 227.9,125.7 228.9,125.6 230.1,125.6 231.2,125.6 232.3,125.6 233.2,125.7 234.0,125.9 234.4,126.0 234.8,126.1 235.1,126.3 235.4,126.4 235.7,126.6 235.9,126.8 236.2,127.0 236.5,127.3 236.9,127.8 237.3,128.5 237.7,129.3 238.1,130.1 238.5,131.0 238.8,131.9 239.2,132.8 239.5,133.8 240.0,135.1 240.4,136.3 240.8,137.6 241.3,139.0 241.7,140.5 242.1,142.1 242.4,143.9 242.8,145.9 243.5,151.5 244.1,158.3 244.6,166.2 245.0,174.8 245.4,183.7 245.8,192.8 246.2,201.6 246.6,210.0 247.1,218.1 247.5,226.5 248.0,234.9 248.5,243.3 249.0,251.5 249.4,259.4 249.9,266.9 250.4,273.8 250.7,278.2 251.1,282.4 251.4,286.3 251.8,290.1 252.1,293.7 252.5,297.4 252.8,301.2 253.1,305.0 253.4,308.9 253.7,312.8 253.9,316.6 254.2,320.4 254.4,324.3 254.7,328.4 255.0,332.6 255.4,337.2 256.0,344.2 256.7,351.7 257.5,359.6 258.4,367.9 259.2,376.3 260.1,384.8 260.9,393.1 261.7,401.3 262.4,409.4 263.1,417.7 263.8,426.0 264.5,434.3 265.2,442.4 265.9,450.4 266.5,457.9 267.2,465.0 267.7,470.0 268.2,474.8 268.7,479.5 269.2,483.9 269.7,488.3 270.2,492.6 270.7,496.8 271.2,501.0 271.7,504.7 272.1,508.3 272.5,511.9 273.0,515.4 273.5,518.8 274.0,522.2 274.5,525.4 275.1,528.6 275.6,531.2 276.2,533.9 276.8,536.5 277.5,539.0 278.1,541.4 278.8,543.7 279.4,545.8 280.1,547.6 280.5,548.6 280.9,549.5 281.3,550.4 281.7,551.2 282.1,551.9 282.6,552.7 283.0,553.3 283.5,554.0 283.9,554.6 284.3,555.2 284.8,555.8 285.3,556.3 285.7,556.8 286.2,557.2 286.6,557.5 287.1,557.6 287.5,557.5 287.9,557.3 288.4,557.0 288.8,556.6 289.2,556.2 289.6,555.8 290.1,555.4 290.5,555.0 290.9,554.7 291.3,554.4 291.7,554.1 292.1,553.8 292.5,553.5 293.0,553.2 293.4,552.9 293.9,552.6 294.6,552.3 295.3,552.0 296.2,551.8 297.0,551.6 297.8,551.3 298.6,551.0 299.4,550.6 300.1,550.1 300.9,549.2 301.7,548.2 302.4,547.1 303.0,545.9 303.6,544.5 304.2,543.1 304.7,541.6 305.2,540.0 305.9,537.4 306.5,534.4 307.0,531.2 307.4,527.8 307.8,524.4 308.2,521.1 308.5,517.9 308.9,515.0 309.2,513.0 309.4,511.1 309.7,509.4 309.9,507.7 310.1,505.9 310.3,504.1 310.5,502.2 310.7,500.0 311.0,496.4 311.2,492.5 311.5,488.4 311.7,484.1 311.9,479.5 312.1,474.8 312.4,470.0 312.7,465.0 313.2,457.9 313.8,450.4 314.4,442.5 315.0,434.3 315.7,426.0 316.4,417.7 317.1,409.4 317.7,401.3 318.3,393.1 319.0,384.8 319.7,376.3 320.4,367.9 321.1,359.6 321.7,351.7 322.2,344.2 322.7,337.2 323.0,332.6 323.2,328.4 323.4,324.3 323.5,320.4 323.7,316.6 323.8,312.8 324.0,308.9 324.2,305.0 324.4,301.2 324.6,297.4 324.8,293.7 325.0,290.1 325.3,286.3 325.5,282.4 325.8,278.2 326.2,273.8 326.8,266.9 327.5,259.4 328.2,251.5 329.1,243.3 329.9,234.9 330.9,226.5 331.8,218.1 332.8,210.0 333.8,201.6 334.9,192.6 336.1,183.4 337.3,174.3 338.5,165.7 339.7,157.8 340.9,151.1 342.0,145.9 342.4,144.3 342.8,142.9 343.2,141.7 343.6,140.6 344.0,139.6 344.4,138.6 344.9,137.7 345.3,136.8 345.6,136.1 346.0,135.4 346.3,134.8 346.7,134.2 347.0,133.6 347.4,133.1 347.9,132.6 348.3,132.2 348.7,131.9 349.1,131.7 349.5,131.5 349.9,131.3 350.4,131.2 350.9,131.1 351.4,131.0 352.0,130.9 353.2,130.7 354.6,130.6 356.2,130.4 357.9,130.4 359.6,130.4 361.1,130.5 362.4,130.8 363.4,131.3 363.9,131.8 364.3,132.3 364.6,133.0 364.8,133.7 365.0,134.4 365.1,135.2 365.3,136.0 365.5,136.8 365.8,137.8 366.0,138.7 366.2,139.7 366.4,140.7 366.6,141.8 366.8,143.0 367.0,144.3 367.2,145.9 367.8,151.1 368.3,157.8 368.8,165.7 369.4,174.3 369.9,183.4 370.5,192.6 371.0,201.6 371.5,210.0 372.0,218.1 372.6,226.5 373.1,234.9 373.7,243.3 374.2,251.5 374.7,259.4 375.1,266.9 375.5,273.8 375.7,278.2 375.9,282.4 376.1,286.3 376.3,290.1 376.5,293.7 376.6,297.4 376.8,301.2 377.0,305.0 377.2,308.9 377.4,312.8 377.7,316.6 377.9,320.4 378.2,324.3 378.4,328.4 378.7,332.6 379.0,337.2 379.5,344.2 380.0,351.7 380.5,359.6 381.1,367.9 381.7,376.3 382.3,384.8 382.9,393.1 383.5,401.3 384.1,409.4 384.8,417.7 385.4,426.0 386.1,434.3 386.7,442.4 387.4,450.4 388.1,457.9 388.7,465.0 389.2,470.0 389.7,474.7 390.1,479.2 390.6,483.6 391.1,487.8 391.5,492.1 392.0,496.5 392.5,501.0 393.0,506.0 393.5,511.3 393.9,516.7 394.4,522.2 394.9,527.4 395.4,532.2 395.9,536.5 396.5,540.0 396.8,541.5 397.0,542.9 397.2,544.3 397.4,545.6 397.7,546.7 398.0,547.6 398.5,548.3 399.0,548.8 399.5,548.9 400.1,548.9 400.7,548.7 401.4,548.4 402.0,548.1 402.7,547.8 403.4,547.6 404.0,547.6 404.6,547.7 405.2,547.9 405.7,548.1 406.3,548.4 406.8,548.7 407.4,549.0 407.9,549.2 408.5,549.5 409.0,549.8 409.6,550.1 410.1,550.4 410.6,550.8 411.2,551.0 411.7,551.2 412.2,551.3 412.7,551.3 413.4,551.0 414.0,550.6 414.7,550.0 415.4,549.2 416.0,548.3 416.6,547.3 417.2,546.2 417.7,545.1 418.6,542.4 419.3,539.0 419.8,535.1 420.3,530.9 420.6,526.6 420.9,522.4 421.2,518.4 421.5,515.0 421.7,512.9 421.8,511.0 422.0,509.3 422.1,507.6 422.2,505.9 422.3,504.1 422.4,502.1 422.5,500.0 422.7,496.4 423.0,492.5 423.3,488.4 423.5,484.1 423.8,479.5 424.1,474.8 424.5,470.0 424.8,465.0 425.3,457.9 425.8,450.4 426.4,442.5 426.9,434.3 427.5,426.0 428.1,417.7 428.7,409.4 429.2,401.3 429.7,393.1 430.3,384.8 430.9,376.3 431.4,367.9 431.9,359.6 432.4,351.7 432.9,344.2 433.3,337.2 433.5,332.6 433.7,328.4 433.9,324.3 434.1,320.4 434.2,316.6 434.4,312.8 434.6,308.9 434.8,305.0 435.0,301.2 435.2,297.4 435.4,293.7 435.7,290.1 435.9,286.3 436.2,282.4 436.5,278.2 436.8,273.8 437.3,266.9 437.9,259.4 438.6,251.5 439.3,243.3 440.1,234.9 440.9,226.5 441.7,218.1 442.6,210.0 443.6,201.6 444.6,192.6 445.8,183.4 447.0,174.3 448.1,165.7 449.3,157.8 450.3,151.1 451.3,145.9 451.6,144.3 451.9,143.0 452.2,141.8 452.5,140.7 452.8,139.7 453.1,138.7 453.5,137.8 453.8,136.8 454.1,136.0 454.4,135.1 454.7,134.3 455.0,133.5 455.3,132.7 455.6,132.0 456.0,131.4 456.4,130.8 456.7,130.5 457.0,130.2 457.3,129.9 457.6,129.7 457.9,129.4 458.2,129.3 458.6,129.1 459.0,128.9 459.6,128.7 460.3,128.5 461.1,128.4 461.9,128.3 462.7,128.2 463.5,128.1 464.3,128.1 465.1,128.1 465.9,128.1 466.7,128.1 467.5,128.1 468.2,128.1 469.0,128.2 469.7,128.3 470.4,128.6 471.0,128.9 471.5,129.4 472.0,130.0 472.4,130.6 472.7,131.4 473.1,132.2 473.4,133.1 473.7,133.9 474.0,134.8 474.4,135.9 474.8,137.1 475.2,138.3 475.6,139.5 476.0,140.9 476.3,142.4 476.7,144.0 477.0,145.9 477.8,151.4 478.5,158.2 479.1,166.0 479.7,174.6 480.3,183.6 480.8,192.7 481.4,201.6 482.0,210.0 482.6,218.1 483.3,226.5 484.0,234.9 484.7,243.3 485.3,251.5 486.0,259.4 486.5,266.9 487.0,273.8 487.3,278.2 487.5,282.4 487.8,286.3 488.0,290.1 488.2,293.7 488.4,297.4 488.6,301.2 488.8,305.0 489.1,308.9 489.3,312.8 489.6,316.6 489.8,320.4 490.1,324.3 490.4,328.4 490.8,332.6 491.1,337.2 491.6,344.2 492.2,351.7 492.9,359.6 493.5,367.9 494.2,376.3 494.9,384.8 495.6,393.1 496.3,401.3 497.0,409.4 497.7,417.7 498.5,426.0 499.2,434.3 499.9,442.5 500.7,450.4 501.4,457.9 502.0,465.0 502.4,469.9 502.9,474.7 503.3,479.3 503.7,483.8 504.1,488.0 504.5,492.2 504.9,496.2 505.3,500.0 505.6,502.8 505.9,505.4 506.3,507.9 506.6,510.4 506.9,512.8 507.3,515.1 507.6,517.5 508.0,520.0 508.4,522.5 508.8,525.1 509.1,527.8 509.5,530.4 510.0,533.0 510.4,535.4 510.8,537.8 511.3,540.0 511.7,541.6 512.0,543.1 512.4,544.6 512.8,546.1 513.1,547.5 513.6,548.7 514.0,549.9 514.5,551.0 514.8,551.7 515.2,552.4 515.6,553.1 515.9,553.7 516.3,554.2 516.7,554.7 517.2,555.0 517.6,555.1 518.2,555.0 518.8,554.7 519.5,554.2 520.1,553.6 520.8,552.8 521.5,552.0 522.1,551.1 522.6,550.1 523.4,548.1 524.0,545.7 524.6,543.0 525.0,540.1 525.3,536.9 525.7,533.8 526.0,530.6 526.3,527.6 526.6,524.4 526.9,521.2 527.2,518.0 527.4,514.7 527.6,511.4 527.8,508.0 528.0,504.5 528.3,501.0 528.6,496.8 529.0,492.6 529.4,488.3 529.8,484.0 530.2,479.5 530.6,474.8 531.0,470.0 531.3,465.0 531.7,457.9 532.1,450.4 532.4,442.4 532.8,434.3 533.1,426.0 533.4,417.7 533.8,409.4 534.2,401.3 534.6,393.1 535.1,384.8 535.7,376.3 536.2,367.9 536.7,359.6 537.2,351.7 537.6,344.2 538.0,337.2 538.2,332.6 538.4,328.4 538.6,324.3 538.7,320.4 538.9,316.6 539.0,312.8 539.1,308.9 539.3,305.0 539.4,301.2 539.6,297.4 539.7,293.7 539.8,290.1 540.0,286.3 540.1,282.4 540.3,278.2 540.5,273.8 540.8,266.9 541.2,259.4 541.5,251.5 541.9,243.3 542.4,234.9 543.0,226.5 543.6,218.1 544.3,210.0 545.2,201.6 546.2,192.7 547.3,183.5 548.5,174.5 549.7,165.9 550.9,158.0 552.0,151.3 553.0,145.9 553.4,144.2 553.7,142.7 554.1,141.3 554.4,140.1 554.7,138.9 555.1,137.9 555.4,136.8 555.8,135.8 556.1,135.1 556.3,134.3 556.5,133.6 556.8,133.0 557.1,132.4 557.4,131.8 557.7,131.3 558.1,130.8 558.5,130.4 558.9,130.1 559.3,129.8 559.8,129.6 560.3,129.4 560.8,129.2 561.4,129.0 562.0,128.9 563.3,128.7 564.8,128.4 566.5,128.3 568.3,128.2 570.1,128.2 571.8,128.4 573.3,128.7 574.4,129.3 575.1,130.0 575.7,130.9 576.1,131.9 576.5,133.1 576.7,134.3 577.0,135.5 577.2,136.7 577.5,137.8 577.8,138.8 578.0,139.6 578.3,140.5 578.5,141.4 578.7,142.3 578.9,143.3 579.2,144.5 579.4,145.9 580.1,151.0 580.9,157.6 581.7,165.5 582.5,174.1 583.4,183.3 584.2,192.5 585.0,201.6 585.7,210.0 586.4,218.1 587.1,226.5 587.8,234.9 588.5,243.3 589.1,251.5 589.7,259.4 590.3,266.9 590.8,273.8 591.1,278.2 591.4,282.4 591.6,286.3 591.8,290.1 592.1,293.7 592.3,297.4 592.5,301.2 592.7,305.0 592.9,308.9 593.1,312.8 593.3,316.6 593.5,320.4 593.7,324.3 593.9,328.4 594.2,332.6 594.5,337.2 595.0,344.2 595.7,351.7 596.4,359.7 597.2,367.9 598.0,376.3 598.8,384.8 599.5,393.1 600.3,401.3 601.0,409.4 601.8,417.7 602.5,426.0 603.3,434.3 604.0,442.4 604.7,450.4 605.4,457.9 606.1,465.0 606.6,470.0 607.0,474.8 607.5,479.4 607.9,483.8 608.4,488.1 608.8,492.4 609.3,496.7 609.8,501.0 610.2,505.2 610.6,509.6 611.0,514.0 611.4,518.4 611.8,522.5 612.4,526.4 613.1,529.8 613.9,532.6 614.4,533.9 615.0,535.0 615.6,536.1 616.3,537.0 617.0,537.9 617.6,538.7 618.3,539.4 618.9,540.1 619.3,540.6 619.7,541.0 620.1,541.5 620.5,541.9 621.0,542.2 621.4,542.5 621.8,542.6 622.2,542.6 622.8,542.3 623.5,541.8 624.2,541.1 624.8,540.1 625.5,539.0 626.1,537.8 626.7,536.5 627.2,535.1 628.0,532.1 628.5,528.4 628.9,524.2 629.1,519.7 629.3,515.0 629.5,510.2 629.6,505.5 629.9,501.0 630.2,496.6 630.6,492.3 630.9,488.0 631.2,483.7 631.5,479.3 631.9,474.7 632.2,470.0 632.5,465.0 632.9,457.9 633.4,450.4 633.8,442.4 634.3,434.3 634.7,426.0 635.1,417.7 635.6,409.4 636.0,401.3 636.4,393.1 636.9,384.8 637.3,376.3 637.7,367.9 638.2,359.6 638.5,351.7 638.9,344.2 639.2,337.2 639.4,332.6 639.5,328.4 639.6,324.3 639.8,320.4 639.9,316.6 640.0,312.8 640.1,308.9 640.3,305.0 640.5,301.2 640.7,297.4 641.0,293.7 641.2,290.1 641.5,286.3 641.7,282.4 642.0,278.2 642.3,273.8 642.7,266.9 643.1,259.4 643.5,251.5 643.9,243.3 644.3,234.9 644.8,226.5 645.4,218.1 646.0,210.0 646.8,201.6 647.6,192.7 648.6,183.5 649.6,174.5 650.6,165.9 651.6,158.0 652.6,151.2 653.5,145.9 653.9,144.2 654.2,142.7 654.5,141.3 654.9,140.1 655.2,139.0 655.6,137.9 655.9,136.8 656.3,135.8 656.6,135.0 656.8,134.2 657.1,133.4 657.3,132.7 657.6,132.0 657.9,131.3 658.2,130.8 658.6,130.3 658.9,130.0 659.3,129.7 659.7,129.5 660.1,129.4 660.5,129.2 661.0,129.1 661.5,129.0 662.0,128.9 663.2,128.7 664.6,128.5 666.3,128.3 668.0,128.2 669.7,128.3 671.2,128.4 672.6,128.7 673.7,129.3 674.4,130.0 674.9,130.9 675.3,131.9 675.6,133.1 675.8,134.3 676.0,135.5 676.2,136.7 676.5,137.8 676.8,138.8 677.1,139.6 677.4,140.5 677.7,141.4 677.9,142.3 678.2,143.3 678.4,144.5 678.7,145.9 679.4,151.0 680.0,157.6 680.6,165.5 681.1,174.1 681.6,183.3 682.1,192.5 682.7,201.6 683.2,210.0 683.8,218.1 684.4,226.5 685.0,234.9 685.6,243.3 686.1,251.5 686.6,259.4 687.1,266.9 687.5,273.8 687.7,278.2 687.9,282.4 688.1,286.3 688.2,290.1 688.3,293.7 688.4,297.4 688.6,301.2 688.7,305.0 688.8,308.9 689.0,312.8 689.1,316.6 689.2,320.4 689.4,324.3 689.5,328.4 689.7,332.6 690.0,337.2 690.5,344.2 691.0,351.7 691.6,359.6 692.3,367.9 693.0,376.3 693.7,384.8 694.4,393.1 695.0,401.3 695.6,409.4 696.2,417.7 696.7,426.0 697.3,434.3 697.9,442.4 698.4,450.4 699.0,457.9 699.5,465.0 699.9,470.1 700.3,474.9 700.7,479.7 701.1,484.2 701.4,488.7 701.8,492.9 702.2,497.0 702.6,501.0 702.9,503.9 703.2,506.8 703.5,509.5 703.8,512.2 704.1,514.7 704.4,517.2 704.7,519.7 705.0,522.0 705.3,523.8 705.5,525.6 705.7,527.3 706.0,529.0 706.3,530.6 706.5,532.1 706.9,533.7 707.2,535.1 707.5,536.2 707.8,537.3 708.2,538.3 708.5,539.3 708.9,540.3 709.2,541.2 709.6,542.1 710.0,543.0 710.3,543.7 710.6,544.4 710.9,545.1 711.2,545.8 711.6,546.4 711.9,546.9 712.3,547.4 712.7,547.6 713.1,547.7 713.5,547.7 713.9,547.6 714.3,547.4 714.8,547.2 715.2,547.0 715.6,546.7 716.0,546.5 716.4,546.3 716.8,546.0 717.2,545.8 717.6,545.5 718.0,545.1 718.3,544.8 718.7,544.3 719.0,543.8 719.6,542.5 720.2,540.9 720.7,539.0 721.2,536.9 721.6,534.6 722.0,532.3 722.3,529.9 722.7,527.6 723.1,524.6 723.4,521.5 723.7,518.3 723.9,515.0 724.1,511.6 724.3,508.1 724.5,504.6 724.8,501.0 725.2,496.8 725.6,492.6 726.0,488.3 726.4,484.0 726.8,479.5 727.2,474.8 727.6,470.0 728.0,465.0 728.5,457.9 728.9,450.4 729.4,442.4 729.8,434.3 730.3,426.0 730.7,417.7 731.1,409.4 731.5,401.3 731.9,393.1 732.3,384.8 732.7,376.3 733.1,367.9 733.5,359.6 733.9,351.7 734.2,344.2 734.5,337.2 734.7,332.6 734.9,328.4 735.0,324.3 735.2,320.4 735.3,316.6 735.4,312.8 735.6,308.9 735.8,305.0 736.0,301.2 736.2,297.4 736.4,293.7 736.7,290.1 736.9,286.3 737.2,282.4 737.4,278.2 737.7,273.8 738.1,266.9 738.5,259.4 738.9,251.5 739.3,243.3 739.8,234.9 740.3,226.5 740.8,218.1 741.5,210.0 742.3,201.5 743.2,192.4 744.2,183.0 745.2,173.7 746.2,165.0 747.2,157.1 748.2,150.7 749.0,145.9 749.2,144.8 749.5,143.9 749.7,143.1 749.9,142.3 750.1,141.7 750.3,141.1 750.5,140.4 750.8,139.8 751.0,139.2 751.2,138.7 751.4,138.1 751.7,137.6 751.9,137.0 752.2,136.6 752.5,136.2 752.8,135.8 753.1,135.6 753.5,135.4 753.8,135.2 754.2,135.1 754.6,135.0 755.0,134.9 755.5,134.8 756.0,134.7 757.1,134.5 758.5,134.4 760.1,134.2 761.8,134.1 763.4,134.1 765.0,134.2 766.4,134.4 767.5,134.8 768.1,135.1 768.6,135.5 769.1,136.0 769.5,136.5 769.9,137.0 770.3,137.6 770.6,138.2 771.0,138.8 771.4,139.5 771.9,140.2 772.2,140.9 772.6,141.7 773.0,142.6 773.3,143.5 773.7,144.6 774.0,145.9 774.9,150.8 775.8,157.4 776.5,165.2 777.2,173.9 777.9,183.1 778.5,192.5 779.1,201.5 779.7,210.0 780.3,218.1 780.9,226.5 781.5,234.9 782.0,243.3 782.5,251.5 783.0,259.4 783.4,266.9 783.8,273.8 784.0,278.2 784.2,282.4 784.3,286.3 784.5,290.1 784.6,293.7 784.7,297.4 784.9,301.2 785.0,305.0 785.2,308.9 785.3,312.8 785.4,316.6 785.6,320.4 785.7,324.3 785.9,328.4 786.1,332.6 786.4,337.2 786.9,344.2 787.4,351.7 788.0,359.7 788.6,367.9 789.3,376.3 790.0,384.8 790.7,393.1 791.4,401.3 792.1,409.4 792.8,417.7 793.5,426.0 794.2,434.3 794.9,442.4 795.6,450.4 796.3,457.9 797.0,465.0 797.5,470.0 797.9,474.8 798.4,479.4 798.8,483.9 799.2,488.2 799.7,492.5 800.2,496.8 800.7,501.0 801.2,504.9 801.7,509.0 802.2,513.0 802.7,517.0 803.2,520.8 803.8,524.3 804.4,527.4 805.0,530.1 805.3,531.3 805.7,532.4 806.0,533.4 806.4,534.3 806.8,535.2 807.1,536.0 807.6,536.8 808.0,537.5 808.4,538.1 808.7,538.7 809.1,539.3 809.5,539.9 809.9,540.4 810.4,540.8 810.8,541.1 811.3,541.3 811.8,541.3 812.3,541.2 812.8,541.1 813.3,540.8 813.9,540.5 814.4,540.1 815.0,539.8 815.5,539.5 816.1,539.2 816.6,538.8 817.2,538.5 817.8,538.1 818.3,537.7 818.9,537.3 819.4,536.8 820.0,536.3 820.8,535.5 821.6,534.6 822.5,533.7 823.3,532.7 824.2,531.5 824.9,530.3 825.7,529.0 826.3,527.6 827.1,525.1 827.8,522.2 828.3,519.0 828.7,515.5 829.1,512.0 829.4,508.3 829.8,504.6 830.2,501.0 830.7,496.8 831.3,492.6 831.8,488.4 832.3,484.0 832.8,479.5 833.3,474.9 833.8,470.0 834.3,465.0 834.9,457.9 835.6,450.4 836.2,442.5 836.8,434.3 837.4,426.0 838.0,417.7 838.6,409.4 839.1,401.3 839.6,393.1 840.2,384.8 840.7,376.3 841.1,367.9 841.6,359.6 842.1,351.7 842.5,344.2 842.9,337.2 843.2,332.6 843.4,328.4 843.7,324.3 843.9,320.4 844.2,316.6 844.4,312.8 844.6,308.9 844.8,305.0 845.0,301.2 845.1,297.4 845.2,293.7 845.3,290.1 845.4,286.3 845.5,282.4 845.7,278.2 845.9,273.8 846.2,266.9 846.6,259.4 847.1,251.5 847.5,243.3 848.1,234.9 848.6,226.5 849.3,218.1 850.0,210.0 850.8,201.6 851.8,192.6 852.8,183.4 853.9,174.3 854.9,165.7 856.0,157.8 857.0,151.1 857.9,145.9 858.2,144.3 858.5,143.0 858.8,141.8 859.1,140.7 859.3,139.7 859.6,138.7 860.0,137.8 860.3,136.8 860.6,136.0 860.9,135.2 861.2,134.4 861.5,133.6 861.8,132.9 862.2,132.3 862.6,131.7 863.0,131.3 863.3,131.1 863.6,130.9 864.0,130.7 864.3,130.6 864.7,130.6 865.1,130.5 865.5,130.5 866.0,130.4 867.3,130.2 868.9,130.0 870.8,129.9 872.7,129.8 874.7,129.8 876.5,129.9 878.1,130.2 879.3,130.8 879.9,131.4 880.4,132.1 880.8,133.0 881.1,133.9 881.3,134.9 881.5,135.9 881.7,136.9 882.0,137.8 882.3,138.7 882.6,139.6 882.9,140.4 883.2,141.3 883.5,142.2 883.8,143.3 884.1,144.5 884.4,145.9 885.2,151.0 886.0,157.6 886.9,165.5 887.7,174.1 888.5,183.3 889.2,192.5 890.0,201.6 890.7,210.0 891.4,218.1 892.1,226.5 892.7,234.9 893.4,243.3 894.0,251.5 894.6,259.4 895.2,266.9 895.7,273.8 896.1,278.2 896.4,282.4 896.7,286.3 897.0,290.1 897.3,293.7 897.6,297.4 897.9,301.2 898.2,305.0 898.5,308.9 898.8,312.8 899.1,316.6 899.4,320.4 899.7,324.3 900.0,328.4 900.3,332.6 900.7,337.2 901.2,344.2 901.8,351.7 902.5,359.6 903.1,367.9 903.8,376.3 904.4,384.8 905.1,393.1 905.7,401.3 906.3,409.4 906.9,417.7 907.5,426.0 908.1,434.3 908.7,442.4 909.3,450.4 909.9,457.9 910.5,465.0 910.9,470.0 911.3,474.7 911.7,479.3 912.1,483.7 912.5,488.0 912.9,492.3 913.4,496.6 913.8,501.0 914.2,505.5 914.7,510.3 915.1,515.1 915.5,519.9 916.0,524.4 916.5,528.6 917.0,532.2 917.6,535.1 917.9,536.1 918.1,537.0 918.4,537.8 918.6,538.5 918.9,539.2 919.2,539.8 919.5,540.4 919.8,541.0 920.1,541.5 920.3,541.9 920.6,542.4 920.9,542.8 921.2,543.2 921.5,543.5 921.8,543.7 922.1,543.8 922.5,543.8 922.9,543.6 923.3,543.4 923.7,543.0 924.2,542.6 924.6,542.2 925.1,541.8 925.5,541.5 925.9,541.2 926.4,540.9 926.8,540.7 927.3,540.4 927.7,540.1 928.1,539.7 928.5,539.3 928.9,538.8 929.5,537.7 930.1,536.3 930.6,534.7 931.0,532.9 931.5,531.0 931.9,529.1 932.2,527.1 932.6,525.1 933.0,522.5 933.4,519.7 933.8,516.8 934.1,513.8 934.3,510.7 934.6,507.5 934.9,504.3 935.2,501.0 935.6,496.9 936.0,492.7 936.3,488.5 936.7,484.1 937.1,479.6 937.5,474.9 937.8,470.0 938.2,465.0 938.7,457.9 939.2,450.4 939.7,442.4 940.2,434.3 940.7,426.0 941.2,417.7 941.7,409.4 942.2,401.3 942.7,393.1 943.2,384.8 943.7,376.3 944.2,367.9 944.7,359.6 945.2,351.7 945.6,344.2 945.9,337.2 946.1,332.6 946.2,328.4 946.4,324.3 946.5,320.4 946.5,316.6 946.6,312.8 946.8,308.9 946.9,305.0 947.1,301.2 947.2,297.4 947.4,293.7 947.5,290.1 947.7,286.3 947.9,282.4 948.1,278.2 948.4,273.8 948.8,266.9 949.3,259.4 949.8,251.5 950.4,243.3 951.0,234.9 951.6,226.5 952.3,218.1 953.0,210.0 953.7,201.6 954.5,192.6 955.3,183.4 956.1,174.3 957.0,165.7 957.8,157.8 958.8,151.1 959.7,145.9 960.1,144.3 960.4,142.9 960.8,141.7 961.2,140.6 961.5,139.6 961.9,138.6 962.3,137.7 962.8,136.8 963.2,136.1 963.5,135.4 963.9,134.8 964.3,134.2 964.7,133.6 965.1,133.1 965.6,132.7 966.0,132.3 966.3,132.1 966.7,131.9 967.0,131.8 967.3,131.7 967.7,131.6 968.1,131.5 968.5,131.5 969.0,131.4 970.2,131.2 971.7,131.1 973.4,130.9 975.2,130.8 976.9,130.8 978.6,131.0 980.0,131.3 981.1,131.8 981.7,132.4 982.2,133.1 982.5,134.0 982.7,134.9 982.9,135.9 983.1,136.9 983.3,137.9 983.5,138.8 983.7,139.6 983.9,140.4 984.1,141.1 984.2,141.9 984.4,142.7 984.5,143.6 984.7,144.7 984.9,145.9 985.6,150.8 986.5,157.4 987.5,165.2 988.5,173.9 989.6,183.1 990.6,192.5 991.5,201.5 992.4,210.0 993.2,218.1 993.9,226.5 994.6,234.9 995.2,243.3 995.8,251.5 996.4,259.4 996.9,266.9 997.4,273.8 997.7,278.2 998.0,282.4 998.2,286.3 998.4,290.1 998.6,293.7 998.9,297.4 999.1,301.2 999.3,305.0 999.5,308.9 999.7,312.8 1000.0,316.6 1000.2,320.4 1000.4,324.3 1000.6,328.4 1000.9,332.6 1001.2,337.2 1001.7,344.2 1002.2,351.7 1002.8,359.7 1003.5,367.9 1004.1,376.3 1004.8,384.8 1005.5,393.2 1006.2,401.3 1006.9,409.4 1007.7,417.7 1008.4,426.0 1009.2,434.3 1010.0,442.5 1010.8,450.4 1011.5,457.9 1012.3,465.0 1012.9,470.1 1013.4,475.0 1014.0,479.8 1014.5,484.4 1015.1,488.8 1015.7,493.1 1016.2,497.1 1016.8,501.0 1017.2,503.7 1017.7,506.3 1018.1,508.8 1018.5,511.2 1019.0,513.5 1019.4,515.7 1019.9,517.9 1020.3,520.0 1020.6,521.7 1021.0,523.3 1021.3,524.9 1021.7,526.4 1022.0,527.9 1022.4,529.3 1022.7,530.7 1023.0,532.0 1023.2,532.9 1023.4,533.8 1023.6,534.7 1023.8,535.6 1024.0,536.4 1024.2,537.1 1024.4,537.8 1024.6,538.5 1024.7,538.9 1024.9,539.4 1025.0,539.8 1025.1,540.2 1025.3,540.5 1025.4,540.8 1025.6,541.1 1025.8,541.2 1026.0,541.2 1026.2,541.2 1026.4,541.2 1026.6,541.1 1026.8,541.0 1027.1,540.8 1027.3,540.7 1027.5,540.5 1027.9,540.2 1028.2,539.8 1028.6,539.3 1029.0,538.8 1029.4,538.2 1029.7,537.7 1030.1,537.1 1030.5,536.5 1031.0,535.8 1031.4,535.1 1031.9,534.4 1032.4,533.7 1032.8,532.9 1033.3,532.1 1033.7,531.3 1034.1,530.4 1034.5,529.3 1034.9,528.1 1035.2,526.9 1035.5,525.7 1035.8,524.4 1036.1,523.0 1036.4,521.7 1036.8,520.3 1037.3,518.6 1037.8,516.7 1038.3,514.9 1038.8,512.9 1039.3,511.0 1039.9,509.0 1040.4,507.1 1040.9,505.2 1041.4,503.3 1041.9,501.5 1042.4,499.6 1042.9,497.8 1043.4,495.9 1043.9,494.0 1044.3,492.1 1044.7,490.1 1045.1,487.9 1045.4,485.5 1045.6,483.1 1045.9,480.6 1046.1,478.3 1046.2,476.0 1046.4,473.9 1046.6,472.0 1046.7,471.0 1046.8,470.2 1046.9,469.4 1047.0,468.7 1047.0,468.0 1047.1,467.2 1047.2,466.2 1047.3,465.0 1047.7,460.1 1048.1,453.6 1048.6,445.8 1049.2,437.2 1049.7,428.0 1050.3,418.7 1050.8,409.7 1051.3,401.3 1051.8,393.1 1052.2,384.8 1052.7,376.3 1053.1,367.9 1053.5,359.6 1053.9,351.7 1054.3,344.2 1054.6,337.2 1054.8,332.6 1054.9,328.4 1055.1,324.3 1055.2,320.4 1055.3,316.6 1055.4,312.8 1055.6,308.9 1055.7,305.0 1055.9,301.2 1056.0,297.4 1056.1,293.7 1056.3,290.1 1056.5,286.3 1056.6,282.4 1056.9,278.2 1057.1,273.8 1057.5,266.9 1057.9,259.4 1058.4,251.5 1058.9,243.3 1059.4,234.9 1060.0,226.5 1060.7,218.1 1061.4,210.0 1062.2,201.6 1063.2,192.7 1064.2,183.5 1065.2,174.5 1066.3,165.9 1067.2,158.0 1068.1,151.3 1068.8,145.9 1069.0,144.2 1069.2,142.7 1069.4,141.3 1069.6,140.1 1069.8,138.9 1070.0,137.9 1070.1,136.8 1070.3,135.8 1070.4,135.0 1070.4,134.3 1070.5,133.5 1070.5,132.8 1070.5,132.1 1070.6,131.6 1070.8,131.1 1071.0,130.8 1071.2,130.7 1071.4,130.7 1071.6,130.7 1071.8,130.7 1072.1,130.8 1072.3,130.9 1072.7,130.9 1073.0,130.9 1074.4,130.7 1076.2,130.2 1078.5,129.7 1080.9,129.0 1083.3,128.5 1085.6,128.1 1087.6,128.1 1089.0,128.4 1089.6,128.8 1090.1,129.3 1090.5,129.9 1090.9,130.6 1091.1,131.4 1091.4,132.1 1091.7,133.0 1092.0,133.8 1092.5,135.0 1092.9,136.2 1093.4,137.5 1093.8,138.9 1094.2,140.4 1094.5,142.1 1094.9,143.9 1095.3,145.9 1096.1,151.5 1096.8,158.3 1097.5,166.2 1098.1,174.8 1098.7,183.7 1099.2,192.8 1099.8,201.6 1100.3,210.0 1100.9,218.1 1101.4,226.5 1101.9,234.9 1102.5,243.3 1102.9,251.5 1103.4,259.4 1103.8,266.9 1104.1,273.8 1104.3,278.2 1104.4,282.4 1104.5,286.3 1104.6,290.1 1104.7,293.7 1104.8,297.4 1104.9,301.2 1105.0,305.0 1105.2,308.9 1105.3,312.8 1105.5,316.6 1105.7,320.4 1105.9,324.3 1106.1,328.4 1106.3,332.6 1106.6,337.2 1107.1,344.2 1107.6,351.7 1108.2,359.6 1108.9,367.9 1109.6,376.3 1110.2,384.8 1110.9,393.1 1111.6,401.3 1112.3,409.4 1113.0,417.7 1113.7,426.0 1114.4,434.3 1115.1,442.5 1115.8,450.4 1116.4,457.9 1117.0,465.0 1117.4,470.0 1117.8,475.0 1118.2,479.8 1118.5,484.5 1118.9,488.9 1119.2,493.0 1119.6,496.7 1119.9,500.0 1120.1,501.5 1120.2,502.8 1120.4,504.0 1120.6,505.0 1120.8,506.1 1120.9,507.3 1121.1,508.5 1121.3,510.0 1121.6,513.1 1122.0,516.8 1122.3,520.9 1122.7,525.2 1123.1,529.5 1123.6,533.5 1124.0,537.1 1124.6,540.1 1124.9,541.5 1125.2,543.0 1125.5,544.3 1125.8,545.6 1126.1,546.7 1126.5,547.6 1127.0,548.4 1127.6,548.8 1128.2,548.9 1128.9,548.8 1129.7,548.6 1130.6,548.2 1131.4,547.7 1132.2,547.2 1133.1,546.7 1133.8,546.3 1134.5,545.9 1135.2,545.6 1135.8,545.3 1136.5,544.9 1137.1,544.5 1137.7,544.0 1138.3,543.4 1138.8,542.6 1139.7,540.4 1140.4,537.4 1140.9,533.9 1141.3,530.0 1141.6,526.0 1141.9,522.0 1142.2,518.3 1142.6,515.1 1142.9,513.0 1143.2,511.2 1143.5,509.4 1143.8,507.7 1144.1,505.9 1144.4,504.1 1144.7,502.2 1145.0,500.0 1145.4,496.4 1145.9,492.5 1146.3,488.4 1146.8,484.1 1147.2,479.5 1147.7,474.8 1148.1,470.0 1148.5,465.0 1149.1,457.9 1149.6,450.4 1150.1,442.5 1150.7,434.4 1151.2,426.0 1151.7,417.7 1152.1,409.4 1152.6,401.3 1153.0,393.1 1153.4,384.8 1153.8,376.3 1154.2,367.9 1154.6,359.6 1154.9,351.7 1155.3,344.2 1155.6,337.2 1155.8,332.6 1156.0,328.4 1156.2,324.3 1156.4,320.4 1156.6,316.6 1156.8,312.8 1157.0,308.9 1157.2,305.0 1157.4,301.2 1157.5,297.4 1157.7,293.7 1157.8,290.1 1158.0,286.3 1158.2,282.4 1158.4,278.2 1158.6,273.8 1159.0,266.9 1159.4,259.4 1159.9,251.5 1160.4,243.3 1161.0,234.9 1161.6,226.5 1162.3,218.1 1163.1,210.0 1164.0,201.6 1165.1,192.7 1166.2,183.5 1167.4,174.5 1168.6,165.9 1169.8,158.0 1170.9,151.2 1171.9,145.9 1172.3,144.2 1172.6,142.7 1173.0,141.3 1173.4,140.1 1173.7,138.9 1174.1,137.9 1174.4,136.8 1174.8,135.8 1175.1,135.1 1175.3,134.3 1175.5,133.7 1175.8,133.0 1176.0,132.4 1176.3,131.8 1176.6,131.3 1177.0,130.8 1177.3,130.5 1177.6,130.2 1178.0,129.9 1178.3,129.6 1178.7,129.4 1179.1,129.2 1179.5,129.0 1180.0,128.9 1181.0,128.7 1182.1,128.5 1183.4,128.4 1184.8,128.3 1186.2,128.3 1187.4,128.5 1188.6,128.8 1189.5,129.3 1190.2,130.0 1190.7,130.9 1191.1,131.9 1191.4,133.1 1191.7,134.3 1192.0,135.5 1192.2,136.7 1192.5,137.8 1192.8,138.8 1193.1,139.6 1193.3,140.5 1193.6,141.4 1193.8,142.3 1194.0,143.3 1194.3,144.5 1194.5,145.9 1195.1,151.0 1195.7,157.6 1196.3,165.5 1196.8,174.1 1197.3,183.3 1197.8,192.5 1198.3,201.6 1198.8,210.0 1199.3,218.1 1199.7,226.5 1200.1,234.9 1200.5,243.3 1200.9,251.5 1201.3,259.4 1201.7,266.9 1202.1,273.8 1202.4,278.2 1202.6,282.4 1202.9,286.3 1203.2,290.1 1203.5,293.7 1203.7,297.4 1204.0,301.2 1204.2,305.0 1204.4,308.9 1204.6,312.8 1204.8,316.6 1205.0,320.4 1205.2,324.3 1205.3,328.4 1205.6,332.6 1205.8,337.2 1206.2,344.2 1206.6,351.7 1207.1,359.6 1207.6,367.9 1208.1,376.3 1208.6,384.8 1209.1,393.1 1209.6,401.3 1210.1,409.4 1210.5,417.7 1211.0,426.0 1211.5,434.3 1211.9,442.4 1212.4,450.3 1212.8,457.9 1213.2,465.0 1213.5,470.0 1213.7,474.7 1214.0,479.2 1214.2,483.5 1214.4,487.8 1214.7,492.1 1214.9,496.5 1215.2,501.0 1215.5,505.9 1215.8,511.0 1216.2,516.2 1216.5,521.4 1216.9,526.5 1217.3,531.4 1217.7,535.9 1218.1,540.1 1218.4,542.7 1218.6,545.1 1218.9,547.5 1219.2,549.7 1219.5,551.8 1219.8,553.8 1220.2,555.8 1220.6,557.6 1220.9,559.0 1221.3,560.4 1221.6,561.8 1222.0,563.2 1222.4,564.4 1222.9,565.3 1223.4,566.0 1223.9,566.3 1224.4,566.2 1225.0,565.8 1225.7,565.1 1226.3,564.2 1227.0,563.2 1227.7,562.1 1228.3,561.1 1228.9,560.1 1229.6,559.0 1230.2,557.7 1230.8,556.4 1231.3,555.1 1231.9,553.7 1232.5,552.4 1233.2,551.2 1233.9,550.1 1234.6,549.2 1235.3,548.3 1236.0,547.4 1236.7,546.6 1237.5,545.8 1238.3,545.1 1239.2,544.4 1240.2,543.8 1241.5,543.1 1242.9,542.6 1244.5,542.1 1246.1,541.7 1247.8,541.3 1249.5,540.9 1251.1,540.5 1252.7,540.1 1254.3,539.6 1255.8,539.1 1257.4,538.6 1258.9,538.0 1260.5,537.5 1262.1,537.1 1263.6,536.7 1265.2,536.3 1266.8,536.0 1268.3,535.8 1269.9,535.6 1271.4,535.5 1273.0,535.4 1274.6,535.3 1276.1,535.2 1277.7,535.1 1279.3,535.0 1280.8,534.9 1282.4,534.9 1284.0,534.9 1285.5,534.8 1287.1,534.8 1288.6,534.7 1290.2,534.6 1291.8,534.5 1293.3,534.3 1294.9,534.0 1296.4,533.8 1298.0,533.6 1299.6,533.4 1301.1,533.2 1302.7,533.1 1304.2,533.0 1305.8,533.0 1307.3,533.0 1308.8,533.0 1310.3,533.0 1311.9,533.0 1313.5,533.1 1315.2,533.1 1317.5,533.2 1320.0,533.3 1322.7,533.5 1325.3,533.6 1328.0,533.8 1330.6,533.9 1333.0,533.9 1335.2,533.8 1336.6,533.7 1337.9,533.5 1339.2,533.3 1340.3,533.0 1341.5,532.7 1342.7,532.5 1343.9,532.3 1345.2,532.1 1346.8,532.0 1348.4,532.0 1350.2,532.1 1351.9,532.2 1353.6,532.3 1355.2,532.2 1356.5,531.9 1357.7,531.3 1358.5,530.6 1359.1,529.7 1359.6,528.6 1360.0,527.5 1360.4,526.2 1360.7,525.0 1361.1,523.8 1361.5,522.6 1362.0,521.4 1362.4,520.0 1362.8,518.7 1363.2,517.3 1363.6,516.0 1364.1,514.8 1364.7,513.6 1365.3,512.6 1365.9,511.8 1366.5,511.0 1367.2,510.3 1367.9,509.5 1368.7,508.9 1369.4,508.5 1370.1,508.2 1370.8,508.1 1371.5,508.3 1372.3,508.7 1373.1,509.3 1373.8,510.1 1374.5,510.9 1375.2,511.9 1375.9,512.9 1376.5,513.8 1377.1,515.0 1377.7,516.3 1378.2,517.7 1378.6,519.2 1379.0,520.7 1379.4,522.2 1379.9,523.7 1380.3,525.1 1380.8,526.5 1381.2,527.9 1381.7,529.3 1382.2,530.7 1382.6,532.1 1383.1,533.5 1383.5,534.9 1384.0,536.3" stroke="#ed7d31"/>
</g>
<line x1="443" x2="503" y1="781" y2="781" stroke="#5b9bd5" stroke-width="6.7" stroke-linecap="round"/>
<text x="510" y="788.5" font-size="26" fill="#595959" textLength="144" lengthAdjust="spacingAndGlyphs">Actual Angle</text>
<line x1="693.5" x2="753" y1="781" y2="781" stroke="#ed7d31" stroke-width="6.7" stroke-linecap="round"/>
<text x="759" y="788.5" font-size="26" fill="#595959" textLength="182.5" lengthAdjust="spacingAndGlyphs">Predicted Angle</text>
</svg>
</body></html>
